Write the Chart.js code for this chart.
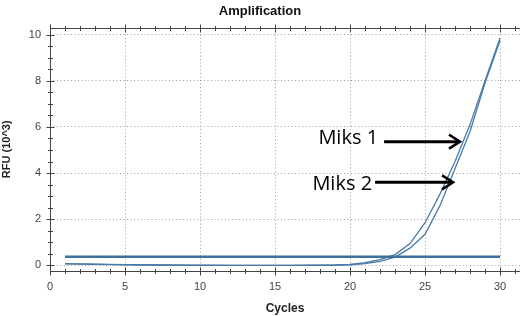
<!DOCTYPE html>
<html>
<head>
<meta charset="utf-8">
<script src="https://cdn.jsdelivr.net/npm/chart.js@4/dist/chart.umd.min.js"></script>
<style>
  html, body { margin: 0; padding: 0; background: #fff; }
  #wrap { width: 520px; height: 316px; }
</style>
</head>
<body>
<div id="wrap"><canvas id="ampChart"></canvas></div>
<script>
// cycle numbers and RFU readings (x10^3)
const cycles = [1, 2, 3, 4, 5, 6, 7, 8, 9, 10, 11, 12, 13, 14, 15,
  16, 17, 18, 19, 20, 21, 22, 23, 24, 25, 26, 27, 28, 29, 30];
const miks1 = [0.08, 0.07, 0.06, 0.05, 0.04, 0.03, 0.02, 0.02, 0.01, 0.01,
  0.01, 0.0, 0.0, 0.0, 0.0, 0.0, 0.01, 0.01, 0.02, 0.05,
  0.12, 0.25, 0.47, 0.95, 1.85, 3.1, 4.5, 6.1, 8.0, 9.85];
const miks2 = [0.07, 0.06, 0.05, 0.04, 0.03, 0.02, 0.02, 0.01, 0.01, 0.0,
  0.0, 0.0, 0.0, 0.0, 0.0, 0.0, 0.0, 0.01, 0.01, 0.03,
  0.08, 0.18, 0.36, 0.75, 1.35, 2.6, 4.2, 5.8, 7.9, 9.75];
const thresholdCycles = [1, 30];
const thresholdValues = [0.38, 0.38];

// arrow labels, in data units
const labelNames = ["Miks 1", "Miks 2"];
const labelTextX = [21.87, 21.47];   // right edge of text
const labelTextY = [5.27, 3.25];     // text baseline
const arrowFromX = [22.27, 21.67];
const arrowToX = [27.33, 26.87];
const arrowY = [5.36, 3.6];

function toPoints(xs, ys) {
  return xs.map((x, i) => ({ x: x, y: ys[i] }));
}

// solid frame, minor/major tick marks + arrows with labels
const decorPlugin = {
  id: "decor",
  afterDraw(chart) {
    const c = chart.ctx;
    const xs = chart.scales.x;
    const ys = chart.scales.y;
    const area = chart.chartArea;
    c.save();
    c.strokeStyle = "#444";
    c.lineWidth = 1;
    const left = Math.round(area.left) + 0.5;
    const bottom = Math.round(area.bottom) + 0.5;
    const top = Math.round(area.top) + 0.5;
    c.beginPath();
    c.moveTo(left, top);
    c.lineTo(area.right, top);
    c.moveTo(left, top);
    c.lineTo(left, bottom);
    c.lineTo(area.right, bottom);
    c.stroke();
    for (let v = 0; v <= 31; v++) {
      const px = Math.round(xs.getPixelForValue(v)) + 0.5;
      const len = v % 5 === 0 ? 4 : 2.5;
      c.beginPath();
      c.moveTo(px, bottom - len);
      c.lineTo(px, bottom + len);
      c.moveTo(px, top - len);
      c.lineTo(px, top + len);
      c.stroke();
    }
    for (let v = 0; v <= 10; v += 0.5) {
      const py = Math.round(ys.getPixelForValue(v)) + 0.5;
      const len = v % 2 === 0 ? 4 : 2.5;
      c.beginPath();
      c.moveTo(left - len, py);
      c.lineTo(left + len, py);
      c.stroke();
    }
    // labels with arrows
    c.fillStyle = "#000";
    c.strokeStyle = "#000";
    c.font = "20px 'Open Sans'";
    c.textAlign = "right";
    c.textBaseline = "alphabetic";
    labelNames.forEach((name, i) => {
      c.fillText(name, xs.getPixelForValue(labelTextX[i]), ys.getPixelForValue(labelTextY[i]));
      const x0 = xs.getPixelForValue(arrowFromX[i]);
      const x1 = xs.getPixelForValue(arrowToX[i]);
      const y = ys.getPixelForValue(arrowY[i]);
      c.lineWidth = 3;
      c.beginPath();
      c.moveTo(x0, y);
      c.lineTo(x1 - 2, y);
      c.stroke();
      c.lineWidth = 2.5;
      c.beginPath();
      c.moveTo(x1 - 11, y - 7);
      c.lineTo(x1, y);
      c.lineTo(x1 - 11, y + 7);
      c.stroke();
    });
    c.restore();
  }
};

const ctx = document.getElementById("ampChart").getContext("2d");
const ampChart = new Chart(ctx, {
  type: "line",
  data: {
    datasets: [
      {
        label: "Threshold",
        data: toPoints(thresholdCycles, thresholdValues),
        borderColor: "#3f6f9b",
        borderWidth: 2.5,
        pointRadius: 0,
      },
      {
        label: "Miks 1",
        data: toPoints(cycles, miks1),
        borderColor: "#4a7aa8",
        borderWidth: 1.3,
        pointRadius: 0,
        tension: 0,
      },
      {
        label: "Miks 2",
        data: toPoints(cycles, miks2),
        borderColor: "#4a7aa8",
        borderWidth: 1.3,
        pointRadius: 0,
        tension: 0,
      },
    ],
  },
  options: {
    responsive: true,
    maintainAspectRatio: false,
    animation: false,
    layout: { padding: 0 },
    plugins: {
      legend: { display: false },
      tooltip: { enabled: false },
      title: {
        display: true,
        text: "Amplification",
        color: "#111",
        font: { family: "Arial, 'Liberation Sans'", size: 13, weight: "bold" },
        padding: { top: 4, bottom: 8 },
      },
    },
    scales: {
      x: {
        type: "linear",
        min: 0,
        max: 31.33,
        ticks: {
          stepSize: 5,
          includeBounds: false,
          color: "#444",
          padding: 9,
          maxRotation: 0,
          font: { family: "Arial, 'Liberation Sans'", size: 11 },
        },
        grid: {
          color: (c) => (c.tick && c.tick.value === 0 ? "rgba(0,0,0,0)" : "#a0a0a0"),
          drawTicks: false,
        },
        border: { display: false, dash: [1, 2.5] },
        title: {
          display: true,
          text: "Cycles",
          color: "#222",
          font: { family: "Arial, 'Liberation Sans'", size: 12, weight: "bold" },
          padding: { top: 4, bottom: 0 },
        },
        afterFit(scale) { scale.height = 45; },
      },
      y: {
        min: -0.24,
        max: 10.3,
        ticks: {
          stepSize: 2,
          includeBounds: false,
          color: "#444",
          padding: 9,
          font: { family: "Arial, 'Liberation Sans'", size: 11 },
        },
        grid: {
          color: "#a0a0a0",
          drawTicks: false,
        },
        border: { display: false, dash: [1, 2.5] },
        title: {
          display: true,
          text: "RFU (10^3)",
          color: "#222",
          font: { family: "Arial, 'Liberation Sans'", size: 11, weight: "bold" },
          padding: { top: 0, bottom: 6 },
        },
        afterFit(scale) { scale.width = 50; },
      },
    },
  },
  plugins: [decorPlugin],
});
</script>
</body>
</html>
